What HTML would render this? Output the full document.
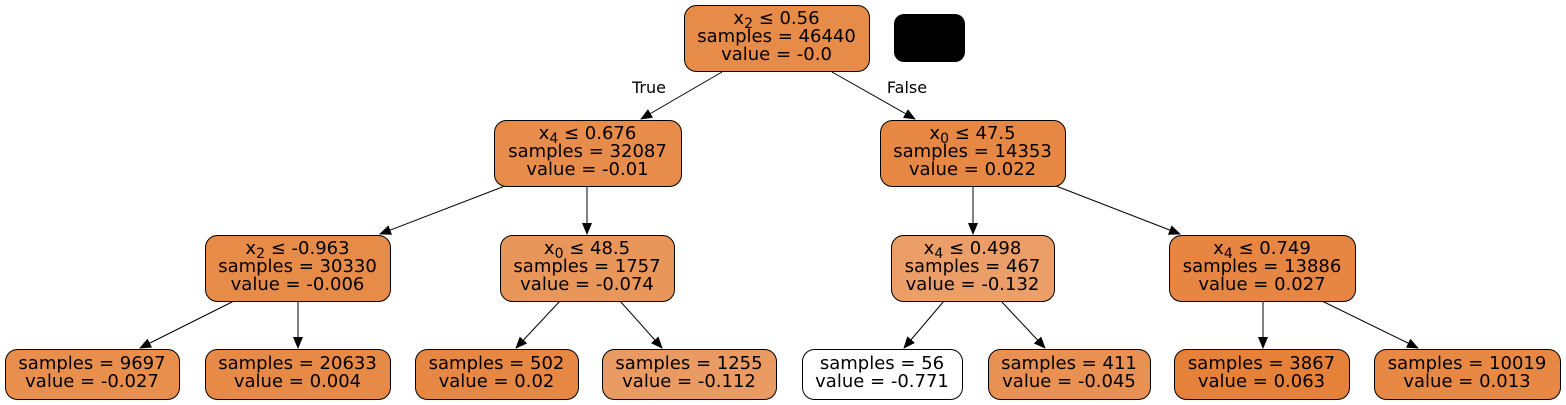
<!DOCTYPE html>
<html><head><meta charset="utf-8"><style>
html,body{margin:0;padding:0;background:#fff;}
svg{display:block;}
text{font-family:"DejaVu Sans","Liberation Sans",sans-serif;font-size:18px;fill:#000;}
</style></head><body>
<svg id="tree" width="1566" height="405" viewBox="0 0 1566 405" xmlns="http://www.w3.org/2000/svg">
<defs><marker id="ah" markerWidth="12" markerHeight="10" refX="11" refY="5" orient="auto" markerUnits="userSpaceOnUse"><path d="M0,0 L12,5 L0,10 z" fill="#000"/></marker></defs>
<g id="edges"></g><g id="nodes"></g>
<rect x="894" y="14" width="71" height="48" rx="10" fill="#000"/>
<text x="649" y="93" text-anchor="middle" style="font-size:16px">True</text>
<text x="907" y="93" text-anchor="middle" style="font-size:16px">False</text>
</svg>
<script>
const nodeIds=['root','n1','n2','n3','n4','n5','n6','l1','l2','l3','l4','l5','l6','l7','l8'];
const nodeSplits=['x₂ ≤ 0.56','x₄ ≤ 0.676','x₀ ≤ 47.5','x₂ ≤ -0.963','x₀ ≤ 48.5','x₄ ≤ 0.498','x₄ ≤ 0.749','','','','','','','',''];
const nodeSamples=[46440,32087,14353,30330,1757,467,13886,9697,20633,502,1255,56,411,3867,10019];
const nodeValues=['-0.0','-0.01','0.022','-0.006','-0.074','-0.132','0.027','-0.027','0.004','0.02','-0.112','-0.771','-0.045','0.063','0.013'];
const boxes=[[684,5,185,66],[494,120,187,66],[880,120,185,66],[205,235,185,66],[500,235,174,66],[891,235,163,66],[1169,235,186,66],
[5,349,174,50],[205,349,185,50],[415,349,163,50],[602,349,174,50],[802,349,160,50],[988,349,162,50],[1174,349,175,50],[1374,349,186,50]];
const edgeList=[[0,1,722,72,641,119],[0,2,832,72,915,119],[1,3,505,186,380,234],[1,4,587,186,587,234],[2,5,973,186,973,234],[2,6,1056,186,1180,234],
[3,7,234,301,140,348],[3,8,298,301,298,348],[4,9,560,301,516,348],[4,10,620,301,662,348],[5,11,944,301,904,348],[5,12,1001,301,1045,348],[6,13,1263,301,1263,348],[6,14,1322,301,1418,348]];
const NS='http://www.w3.org/2000/svg';
const vals=nodeValues.map(Number);const vmin=Math.min(...vals),vmax=Math.max(...vals);
function col(v){const a=(v-vmin)/(vmax-vmin);const c=[229,129,57];return 'rgb('+c.map(x=>Math.round(255-a*(255-x))).join(',')+')';}
const eg=document.getElementById('edges');
edgeList.forEach(e=>{const l=document.createElementNS(NS,'line');


l.setAttribute('x1',e[2]);l.setAttribute('y1',e[3]);l.setAttribute('x2',e[4]);l.setAttribute('y2',e[5]);
l.setAttribute('stroke','#000');l.setAttribute('stroke-width','1');l.setAttribute('marker-end','url(#ah)');eg.appendChild(l);});
const ng=document.getElementById('nodes');
nodeIds.forEach((id,i)=>{const b=boxes[i];const g=document.createElementNS(NS,'g');


const r=document.createElementNS(NS,'rect');
r.setAttribute('x',b[0]+0.5);r.setAttribute('y',b[1]+0.5);r.setAttribute('width',b[2]);r.setAttribute('height',b[3]);r.setAttribute('rx',12);
r.setAttribute('fill',col(vals[i]));r.setAttribute('stroke','#000');g.appendChild(r);
const lines=[];if(nodeSplits[i])lines.push(nodeSplits[i]);lines.push('samples = '+nodeSamples[i]);lines.push('value = '+nodeValues[i]);
const cx=b[0]+b[2]/2;const y0=b[1]+(lines.length===3?19:20);
lines.forEach((t,k)=>{const tx=document.createElementNS(NS,'text');tx.setAttribute('x',cx);tx.setAttribute('y',y0+k*18);tx.setAttribute('text-anchor','middle');
if(t.startsWith('x')&&k===0){tx.innerHTML='x<tspan dy="4" style="font-size:14px">'+t[1].replace(/[₀-₉]/,c=>String(c.charCodeAt(0)-8320))+'</tspan><tspan dy="-4">'+t.slice(2)+'</tspan>';}
else tx.textContent=t;g.appendChild(tx);});
ng.appendChild(g);});
</script>
</body></html>
